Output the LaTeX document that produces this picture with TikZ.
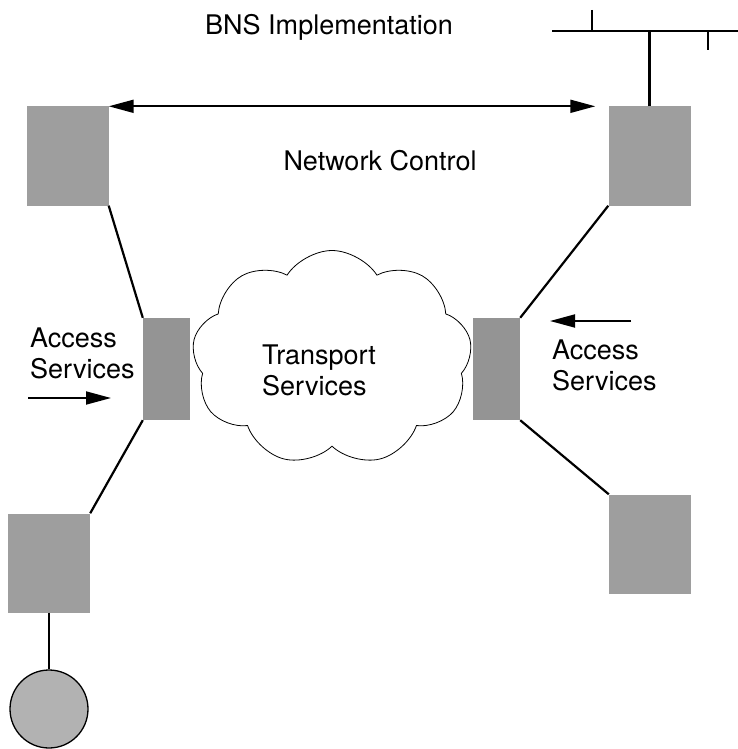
\documentclass[tikz,border=0pt]{standalone}
\usepackage{fontspec}
\setmainfont{TeX Gyre Heros}
\usetikzlibrary{arrows.meta,shapes.symbols}
\tikzset{font={\fontsize{27pt}{31pt}\selectfont}}
\tikzset{
	site/.style={rectangle, fill=black!38, inner sep=0pt, minimum width=82pt, minimum height=99pt},
	gate/.style={rectangle, fill=black!42, inner sep=0pt, minimum width=47pt, minimum height=102pt},
	link/.style={line width=2.2pt},
	flow/.style={line width=1.8pt, -{Triangle[length=25pt,width=13pt]}}
	}

\begin{document}
\begin{tikzpicture}[x=1pt,y=-1pt]
                \useasboundingbox (0,0) rectangle (738,749);
                \node (title) [anchor=base, inner sep=0pt] at (329,35) {BNS Implementation};
                \node (ctrl) [anchor=base, inner sep=0pt] at (380,170) {Network Control};
                \node (cloud) [cloud, draw, cloud puffs=9, cloud puff arc=115, aspect=1.35, inner sep=0pt, minimum width=280pt, minimum height=215pt, line width=0.8pt] at (332,358) {};
                \node (trans) [anchor=north west, align=left, inner sep=0pt] at (262,345) {Transport\\Services};
                \node (nw) [site] at (67.5,156) {};
                \node (ne) [site] at (649.5,156) {};
                \node (sw) [site] at (49,563) {};
                \node (se) [site] at (650,544) {};
                \node (lg) [gate] at (166.5,369) {};
                \node (rg) [gate] at (496.5,369) {};
                \node (host) [circle, draw, fill=black!30, line width=1.3pt, minimum size=78pt, inner sep=0pt] at (49,709) {};
                \node (lacc) [anchor=north west, align=left, inner sep=0pt] at (30,328) {Access\\Services};
                \node (racc) [anchor=north west, align=left, inner sep=0pt] at (552,340) {Access\\Services};
                % bus at top right
                \coordinate (busl) at (552,31);
                \coordinate (busr) at (738,31);
                \coordinate (tapa) at (592,10);
                \coordinate (tapb) at (708,50);
                \draw[link] (busl) -- (busr);
                \draw[link] (tapa) -- (tapa |- busl);
                \draw[link] (tapb) -- (tapb |- busl);
                \draw[link] (ne.north) -- (ne.north |- busl);
                % control
                \draw[line width=1.8pt, {Triangle[length=25pt,width=13pt]}-{Triangle[length=25pt,width=13pt]}, shorten >=13pt] (nw.north east) -- (ne.north west);
                \draw[link] (nw.south east) -- (lg.north west);
                \draw[link] (ne.south west) -- (rg.north east);
                \draw[link] (lg.south west) -- (sw.north east);
                \draw[link] (rg.south east) -- (se.north west);
                \draw[link] (sw.south) -- (host.north);
                % access arrows
                \coordinate (lin) at (28,398);
                \coordinate (lout) at (111,398);
                \coordinate (rin) at (631,321);
                \coordinate (rout) at (550,321);
                \draw[flow] (lin) -- (lout);
                \draw[flow] (rin) -- (rout);
            \end{tikzpicture}
\end{document}
